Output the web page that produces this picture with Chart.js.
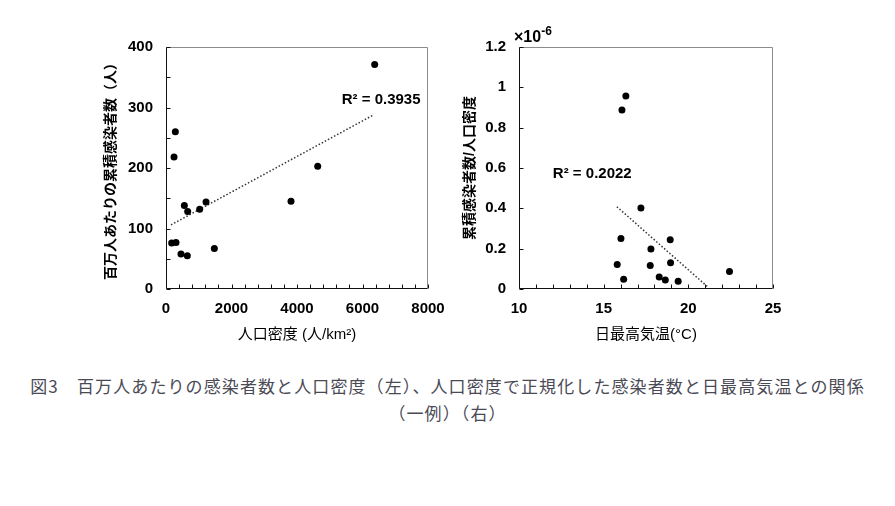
<!DOCTYPE html>
<html>
<head>
<meta charset="utf-8">
<script src="https://cdn.jsdelivr.net/npm/chart.js@4.4.1/dist/chart.umd.min.js"></script>
<style>
  body { margin: 0; width: 895px; height: 506px; background: #fff; position: relative; overflow: hidden; }
  #left { position: absolute; left: 0; top: 0; width: 450px; height: 350px; }
  #right { position: absolute; left: 450px; top: 0; width: 445px; height: 350px; }
  #caption {
    position: absolute; left: 0; top: 372px; width: 895px; text-align: center;
    font-family: "Noto Sans CJK JP", sans-serif; font-size: 17px; letter-spacing: 1.1px;
    line-height: 27px; color: #4a4a55;
  }
</style>
</head>
<body>
<canvas id="left" width="450" height="350"></canvas>
<canvas id="right" width="445" height="350"></canvas>
<div id="caption">図3　百万人あたりの感染者数と人口密度（左）、人口密度で正規化した感染者数と日最高気温との関係<br>（一例）（右）</div>
<script>
'use strict';

// left: population density vs cases per million
var densityX = [6372, 4632, 3817, 285, 245, 560, 662, 1028, 1222, 1476, 173, 305, 458, 651];
var casesPerMillion = [371, 203, 145, 260, 218, 138, 128, 132, 144, 67, 76, 77, 58, 55];
var densityTrendX = [153, 6312];
var densityTrendY = [106, 287];
var densityXTicks = [0, 2000, 4000, 6000, 8000];
var casesYTicks = [0, 100, 200, 300, 400];

// right: daily max temperature vs cases / density (values in units of 1e-6)
var maxTempX = [16.31, 16.08, 17.2, 16.02, 18.93, 17.79, 15.8, 17.75, 18.95, 18.28, 18.64, 16.18, 19.4, 22.43];
var normCases = [0.957, 0.887, 0.402, 0.251, 0.244, 0.198, 0.122, 0.117, 0.130, 0.059, 0.045, 0.048, 0.038, 0.087];
var tempTrendX = [15.78, 21.11];
var tempTrendY = [0.408, 0.013];
var tempXTicks = [10, 15, 20, 25];
var normYTicks = [0, 0.2, 0.4, 0.6, 0.8, 1, 1.2];

var r2Texts = ['R\u00b2 = 0.3935', 'R\u00b2 = 0.2022'];

var tickFont = { family: '"Liberation Sans", Arial, sans-serif', size: 15, weight: 'bold' };
var cjk = '"Liberation Sans", "Noto Sans CJK JP", sans-serif';

function pairs(xs, ys) {
    return xs.map(function (x, i) { return { x: x, y: ys[i] }; });
}

// frame, inward tick marks and the R² note
var framePlugin = {
    id: 'frame',
    afterDatasetsDraw: function (chart, args, o) {
        var ctx = chart.ctx, a = chart.chartArea;
        var xs = chart.scales.x, ys = chart.scales.y;
        var L = Math.round(a.left) + 0.5, R = Math.round(a.right) - 0.5;
        var T = Math.round(a.top) + 0.5, B = Math.round(a.bottom) - 0.5;
        ctx.save();
        ctx.lineWidth = 1;
        ctx.strokeStyle = '#8c8c8c';
        ctx.beginPath();
        ctx.moveTo(L, T); ctx.lineTo(R, T); ctx.lineTo(R, B);
        ctx.stroke();
        ctx.strokeStyle = '#111';
        ctx.beginPath();
        ctx.moveTo(L, T); ctx.lineTo(L, B); ctx.lineTo(R, B);
        var v, p;
        for (v = xs.min; v <= xs.max + 1e-9; v += o.minorX) {
            p = Math.round(xs.getPixelForValue(v)) + 0.5;
            ctx.moveTo(p, B); ctx.lineTo(p, B - 4);
        }
        for (v = ys.min; v <= ys.max + 1e-9; v += o.minorY) {
            p = Math.round(ys.getPixelForValue(v)) + 0.5;
            ctx.moveTo(L, p); ctx.lineTo(L + 4, p);
        }
        ctx.stroke();

        ctx.fillStyle = '#000';
        ctx.font = 'bold 15px "Liberation Sans", Arial, sans-serif';
        ctx.textAlign = 'left';
        ctx.textBaseline = 'middle';
        ctx.fillText(o.note, xs.getPixelForValue(o.noteX), ys.getPixelForValue(o.noteY));

        if (o.exponent) {
            ctx.font = 'bold 16px "Liberation Sans", Arial, sans-serif';
            ctx.fillText('\u00d710', a.left - 5, a.top - 9);
            var w = ctx.measureText('\u00d710').width;
            ctx.font = 'bold 12px "Liberation Sans", Arial, sans-serif';
            ctx.fillText('-6', a.left - 5 + w, a.top - 15);
        }
        ctx.restore();
    }
};

function makeChart(id, opt) {
    return new Chart(document.getElementById(id), {
        type: 'scatter',
        data: {
            datasets: [{
                data: pairs(opt.xData, opt.yData),
                backgroundColor: '#000',
                borderWidth: 0,
                pointRadius: 3.5
            }, {
                data: pairs(opt.trendX, opt.trendY),
                showLine: true,
                borderColor: '#333',
                borderWidth: 1.5,
                borderDash: [1.5, 2],
                pointRadius: 0
            }]
        },
        options: {
            responsive: false,
            animation: false,
            layout: { padding: { left: 0, right: opt.padRight, top: 47, bottom: 0 } },
            plugins: {
                legend: { display: false },
                tooltip: { enabled: false },
                frame: opt.frame
            },
            scales: {
                x: {
                    type: 'linear',
                    min: opt.xTicks[0],
                    max: opt.xTicks[opt.xTicks.length - 1],
                    afterBuildTicks: function (s) { s.ticks = opt.xTicks.map(function (v) { return { value: v }; }); },
                    afterFit: function (s) { s.height = 61; },
                    grid: { display: false },
                    border: { display: false },
                    ticks: {
                        font: tickFont, color: '#000', padding: 3, maxRotation: 0,
                        callback: function (v) { return String(v); }
                    },
                    title: {
                        display: true, text: opt.xTitle, color: '#000',
                        font: { family: cjk, size: 15 },
                        padding: { top: 0, bottom: 6 }
                    }
                },
                y: {
                    type: 'linear',
                    min: opt.yTicks[0],
                    max: opt.yTicks[opt.yTicks.length - 1],
                    afterBuildTicks: function (s) { s.ticks = opt.yTicks.map(function (v) { return { value: v }; }); },
                    afterFit: function (s) { s.width = opt.yWidth; },
                    grid: { display: false },
                    border: { display: false },
                    ticks: {
                        font: tickFont, color: '#000', padding: 5,
                        callback: function (v) { return String(Math.round(v * 10) / 10); }
                    },
                    title: {
                        display: true, text: opt.yTitle, color: '#000',
                        font: { family: cjk, size: 14, weight: 'bold' },
                        padding: { top: opt.yTitlePad, bottom: 0 }
                    }
                }
            }
        },
        plugins: [framePlugin]
    });
}

makeChart('left', {
    xData: densityX, yData: casesPerMillion,
    trendX: densityTrendX, trendY: densityTrendY,
    xTicks: densityXTicks, yTicks: casesYTicks,
    xTitle: '人口密度 (人/km\u00b2)',
    yTitle: '百万人あたりの累積感染者数（人）',
    yWidth: 166, yTitlePad: 103, padRight: 22,
    frame: { minorX: 400, minorY: 50, note: r2Texts[0], noteX: 5365, noteY: 312, exponent: false }
});

makeChart('right', {
    xData: maxTempX, yData: normCases,
    trendX: tempTrendX, trendY: tempTrendY,
    xTicks: tempXTicks, yTicks: normYTicks,
    xTitle: '日最高気温(\u00b0C)',
    yTitle: '累積感染者数/人口密度',
    yWidth: 69, yTitlePad: 12, padRight: 122,
    frame: { minorX: 1, minorY: 0.2, note: r2Texts[1], noteX: 12.0, noteY: 0.572, exponent: true }
});
</script>
</body>
</html>
